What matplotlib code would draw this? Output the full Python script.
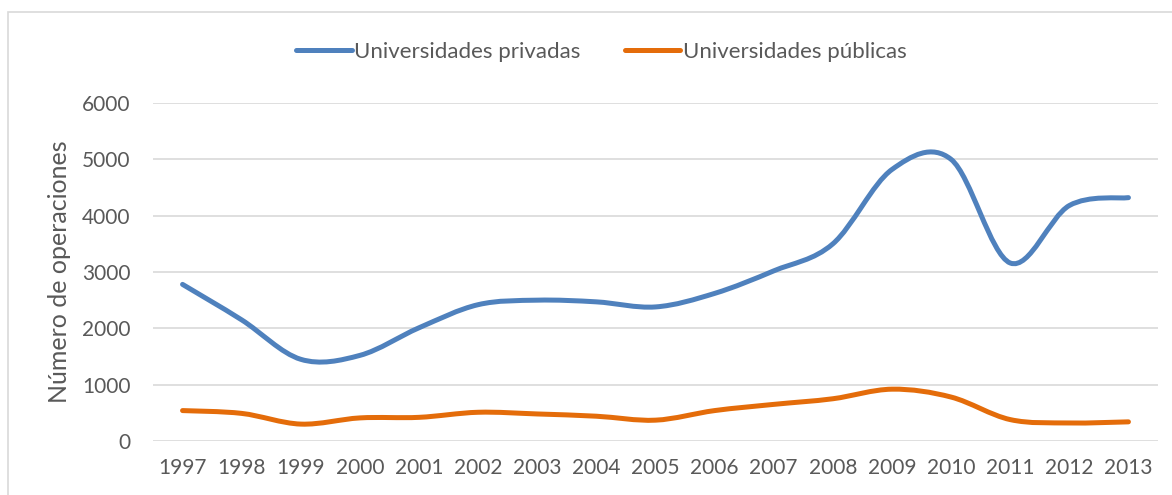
import numpy as np
import matplotlib.pyplot as plt
from matplotlib.path import Path
from matplotlib.patches import PathPatch, Rectangle
from matplotlib.lines import Line2D

plt.rcParams['font.family'] = ['Lato', 'DejaVu Sans']

years = ['1997', '1998', '1999', '2000', '2001', '2002', '2003', '2004', '2005',
         '2006', '2007', '2008', '2009', '2010', '2011', '2012', '2013']
privadas = [2780, 2150, 1450, 1520, 2010, 2420, 2500, 2470, 2380,
            2620, 3020, 3500, 4820, 5000, 3160, 4180, 4320]
publicas = [540, 490, 300, 410, 420, 510, 480, 440, 370,
            540, 650, 750, 920, 780, 380, 320, 340]

blue = '#4F81BD'
orange = '#E46C0A'
text_col = '#595959'


def smooth_path(xs, ys):
    # Excel-style smoothed line: cubic Bezier through each point
    pts = np.column_stack([xs, ys]).astype(float)
    verts = [pts[0]]
    codes = [Path.MOVETO]
    n = len(pts)
    for i in range(n - 1):
        p0 = pts[max(i - 1, 0)]
        p1 = pts[i]
        p2 = pts[i + 1]
        p3 = pts[min(i + 2, n - 1)]
        c1 = p1 + (p2 - p0) / 6.0
        c2 = p2 - (p3 - p1) / 6.0
        verts += [c1, c2, p2]
        codes += [Path.CURVE4] * 3
    return Path(verts, codes)


fig = plt.figure(figsize=(11.72, 4.95), dpi=100)
ax = fig.add_axes([153 / 1172, 54 / 495, 1005 / 1172, 338 / 495])

x = np.arange(len(years))
for vals, col in [(privadas, blue), (publicas, orange)]:
    patch = PathPatch(smooth_path(x, vals), facecolor='none', edgecolor=col,
                      lw=3.6, capstyle='round', joinstyle='round', zorder=3)
    ax.add_patch(patch)

ax.set_xlim(-0.5, len(years) - 0.5)
ax.set_ylim(0, 6000)
ax.set_yticks(range(0, 6001, 1000))
ax.set_xticks(x)
ax.set_xticklabels(years)
ax.grid(axis='y', color='#D9D9D9', lw=1.2)
ax.set_axisbelow(True)
for s in ax.spines.values():
    s.set_visible(False)
ax.tick_params(length=0, labelsize=15, colors=text_col)
ax.tick_params(axis='x', pad=12)
ax.tick_params(axis='y', pad=16)
ax.set_ylabel('Número de operaciones', fontsize=18, color=text_col)
ax.yaxis.set_label_coords(-82 / 1005, 0.5)

handles = [Line2D([], [], color=blue, lw=3.6, solid_capstyle='round'),
           Line2D([], [], color=orange, lw=3.6, solid_capstyle='round')]
fig.legend(handles, ['Universidades privadas', 'Universidades públicas'],
           loc='center', bbox_to_anchor=(0.513, 0.895), ncol=2, frameon=False,
           fontsize=16, labelcolor=text_col, handlelength=2.5, handletextpad=0.1,
           columnspacing=2.0)

fig.patches.append(Rectangle((8 / 1172, -0.1), 1.2, (495 - 12) / 495 + 0.1,
                             transform=fig.transFigure, fill=False,
                             edgecolor='#D9D9D9', lw=1.2))

fig.savefig('out.png', dpi=100)
